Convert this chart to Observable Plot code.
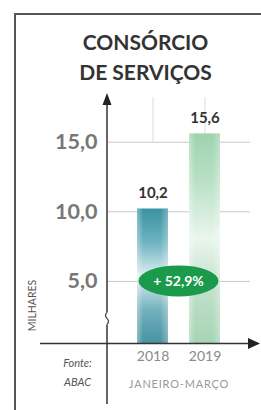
<!DOCTYPE html>
<html><head><meta charset="utf-8">
<script src="https://cdn.jsdelivr.net/npm/d3@7"></script>
<script src="https://cdn.jsdelivr.net/npm/@observablehq/plot@0.6"></script>
<style>
html,body{margin:0;padding:0;background:#fff;}
#wrap{position:relative;width:261px;height:410px;overflow:hidden;font-family:Lato,"Open Sans",sans-serif;}
#box{position:absolute;left:14px;top:13px;right:-5px;bottom:-5px;border-top:2px solid #555;border-left:2px solid #555;}
#chart{position:absolute;left:0;top:0;}
</style></head><body>
<div id="wrap"><div id="box"></div><div id="chart"></div></div>
<script>
const years = ["2018", "2019"];
const values = [10.2, 15.6];
const valueLabels = ["10,2", "15,6"];
const yTicks = [5, 10, 15];
const yTickLabels = ["5,0", "10,0", "15,0"];
const growthLabel = "+ 52,9%";
const titleLines = ["CONSÓRCIO", "DE SERVIÇOS"];
const unitLabel = "MILHARES";
const periodLabel = "JANEIRO-MARÇO";
const sourceLines = ["Fonte:", "ABAC"];
const axisBreak = 0.5;   // value where the (broken) axis starts
const axisTop = 18.5;    // value at the arrow tip

const bars = years.map((year, i) => ({year, value: values[i], label: valueLabels[i]}));
const ticks = yTicks.map((v, i) => ({v, label: yTickLabels[i]}));

function gradients() {
  const defs = d3.create("svg:defs");
  const mk = (id, stops, horiz) => {
    const g = defs.append("linearGradient").attr("id", id)
      .attr("x1", 0).attr("y1", 0).attr("x2", horiz ? 1 : 0).attr("y2", horiz ? 0 : 1);
    stops.forEach(([o, c, a]) => g.append("stop").attr("offset", o).attr("stop-color", c).attr("stop-opacity", a == null ? 1 : a));
  };
  mk("g2018", [[0, "#3a92a4"], [0.25, "#6eb3c0"], [0.5, "#dceff1"], [0.75, "#74b1bd"], [1, "#4592a2"]]);
  mk("g2019", [[0, "#9dd3ae"], [0.25, "#bde2c8"], [0.5, "#eaf6ee"], [0.75, "#bfe0c9"], [1, "#a6d4b4"]]);
  mk("shine", [[0, "#ffffff", 0.35], [0.2, "#ffffff", 0], [0.75, "#ffffff", 0], [1, "#ffffff", 0.3]], true);
  return defs.node();
}

function decorations(index, scales, values, dims) {
  const {x, y} = scales;
  const g = d3.create("svg:g");
  const x0 = dims.marginLeft;
  const yb = y(axisBreak), yt = y(axisTop);
  const xr = dims.width - 1;
  // y axis
  g.append("line").attr("x1", x0).attr("x2", x0).attr("y1", yt + 8).attr("y2", dims.height - 6)
    .attr("stroke", "#333").attr("stroke-width", 1.5);
  g.append("path").attr("d", `M${x0},${yt}L${x0 - 4.5},${yt + 12}L${x0 + 4.5},${yt + 12}Z`).attr("fill", "#222");
  // axis break
  const ybr = y(2.3);
  g.append("rect").attr("x", x0 - 3).attr("y", ybr - 6).attr("width", 6).attr("height", 12).attr("fill", "#fff");
  g.append("path").attr("d", `M${x0},${ybr - 6}q-3,3 0,6q3,3 0,6`).attr("fill", "none").attr("stroke", "#444").attr("stroke-width", 1.2);
  // x axis
  g.append("line").attr("x1", x0 - 67).attr("x2", xr - 8).attr("y1", yb).attr("y2", yb)
    .attr("stroke", "#333").attr("stroke-width", 1.5);
  g.append("path").attr("d", `M${xr},${yb}L${xr - 12},${yb - 5.5}L${xr - 12},${yb + 5.5}Z`).attr("fill", "#222");
  // growth badge
  const cx = (x(years[0]) + x(years[1])) / 2 + x.bandwidth() / 2;
  const cy = y(5);
  g.append("ellipse").attr("cx", cx).attr("cy", cy).attr("rx", 40).attr("ry", 15.5).attr("fill", "#1b9a4b");
  g.append("text").attr("x", cx).attr("y", cy).attr("dy", "0.35em").attr("text-anchor", "middle")
    .attr("fill", "#fff").attr("font-size", 14).attr("font-weight", "bold").attr("font-family", "Lato, sans-serif")
    .text(growthLabel);
  return g.node();
}

const chart = Plot.plot({
  width: 261,
  height: 410,
  marginLeft: 107,
  marginRight: 11,
  marginTop: 93,
  marginBottom: 66.5,
  style: {background: "transparent", fontFamily: "Lato, sans-serif", overflow: "visible"},
  x: {domain: years, paddingInner: 0.4, paddingOuter: 0.56, axis: null},
  y: {domain: [axisBreak, axisTop], axis: null},
  marks: [
    gradients,
    Plot.ruleY(yTicks, {stroke: "#c8c8c8", strokeWidth: 1}),
    Plot.ruleX(years, {x: d => d, y1: 15, y2: 18.2, stroke: "#dcdcdc"}),
    Plot.barY(bars.filter(d => d.year === years[0]), {x: "year", y1: axisBreak, y2: "value", fill: "url(#g2018)"}),
    Plot.barY(bars.filter(d => d.year === years[1]), {x: "year", y1: axisBreak, y2: "value", fill: "url(#g2019)"}),
    Plot.barY(bars, {x: "year", y1: axisBreak, y2: "value", fill: "url(#shine)"}),
    Plot.text(bars, {x: "year", y: "value", text: "label", dy: -16, fontSize: 15, fontWeight: "bold", fill: "#333"}),
    Plot.text(ticks, {y: "v", text: "label", frameAnchor: "left", dx: -10, textAnchor: "end", fontSize: 21.5, fontWeight: "bold", fill: "#777"}),
    Plot.text(years, {x: d => d, text: d => d, frameAnchor: "bottom", dy: 17, fontSize: 14, fill: "#8a8a8a"}),
    Plot.text([periodLabel], {frameAnchor: "bottom", dy: 40, fontSize: 11, fill: "#9a9a9a", lineAnchor: "middle"}),
    Plot.text([sourceLines.join("\n")], {frameAnchor: "bottom-left", dx: -30, dy: 26.5, lineHeight: 1.75, lineAnchor: "middle", textAnchor: "middle", fontSize: 11, fontStyle: "italic", fill: "#555"}),
    Plot.text([titleLines.join("\n")], {frameAnchor: "top-left", dx: 38, dy: -38, lineHeight: 1.45, lineAnchor: "middle", fontSize: 21, fontWeight: "bold", fill: "#333", textAnchor: "middle"}),
    Plot.text([unitLabel], {frameAnchor: "bottom-left", dx: -75, dy: -38.5, rotate: -90, textAnchor: "middle", lineAnchor: "middle", fontSize: 10.5, fill: "#555"}),
    decorations
  ]
});
d3.select(chart).selectAll("text").filter(function() { return this.textContent === periodLabel; })
  .attr("letter-spacing", "0.8px");
document.getElementById("chart").appendChild(chart);
</script>
</body></html>
